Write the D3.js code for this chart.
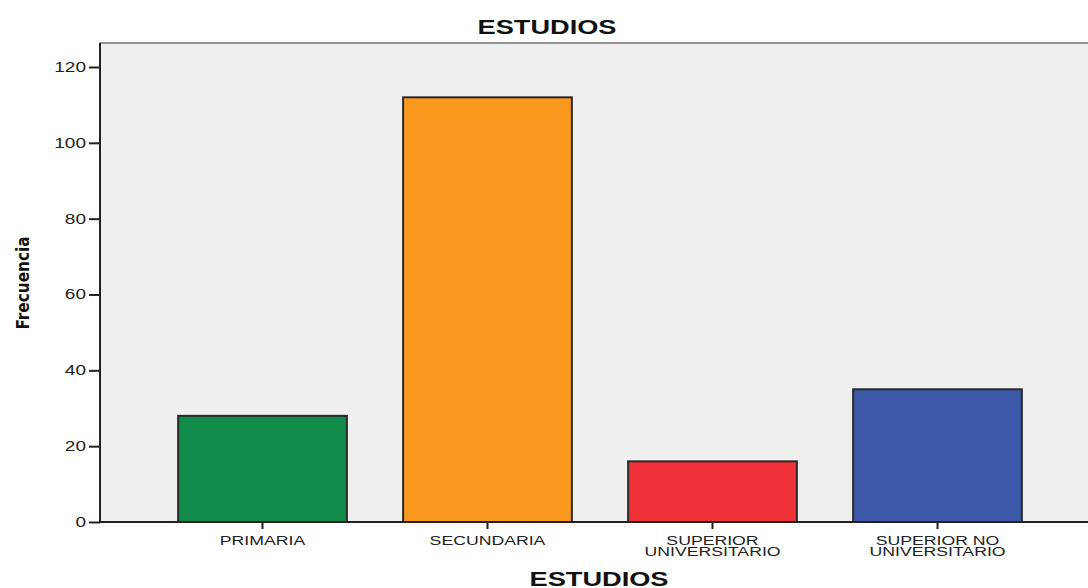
<!DOCTYPE html>
<html><head><meta charset="utf-8">
<script src="https://cdn.jsdelivr.net/npm/d3@7"></script>
<style>body{margin:0;background:#fff}svg{display:block}</style>
</head><body>
<svg id="c" width="1088" height="588"></svg>
<script>
const categories = [["PRIMARIA"], ["SECUNDARIA"], ["SUPERIOR", "UNIVERSITARIO"], ["SUPERIOR NO", "UNIVERSITARIO"]];
const values = [28, 112, 16, 35];
const colors = ["#118c4a", "#f99a1f", "#ef323a", "#3c58a8"];
const yTicks = [0, 20, 40, 60, 80, 100, 120];
const title = "ESTUDIOS";
const xTitle = "ESTUDIOS";
const yTitle = "Frecuencia";

const FONT = "Liberation Sans, Arial, sans-serif";
const SX = 1.36;
const svg = d3.select("#c");
const L = 100, R = 1090, T = 43, B = 522;
const keys = categories.map(c => c.join(" "));
const x = d3.scaleBand().domain(keys).range([150, 1050]).paddingInner(0.25).paddingOuter(0.125);
const y = d3.scaleLinear().domain([0, 120]).range([B, 67]);

svg.append("rect").attr("x", L).attr("y", T).attr("width", R - L).attr("height", B - T)
  .attr("fill", "#efefef").attr("stroke", "#777").attr("stroke-width", 1.5);

svg.selectAll("rect.bar").data(values).enter().append("rect").attr("class", "bar")
  .attr("x", (d, i) => x(keys[i])).attr("width", x.bandwidth())
  .attr("y", d => y(d)).attr("height", d => B - y(d))
  .attr("fill", (d, i) => colors[i]).attr("stroke", "#2a2a2a").attr("stroke-width", 2);

const ya = svg.append("g").attr("transform", `translate(${L},0)`)
  .call(d3.axisLeft(y).tickValues(yTicks).tickSize(11).tickPadding(3));
ya.select(".domain").attr("d", `M0,${T}V${B}`).attr("stroke", "#222").attr("stroke-width", 2);
ya.selectAll(".tick line").attr("stroke", "#222").attr("stroke-width", 2);
ya.selectAll("text").attr("font-family", FONT).attr("font-size", 14).attr("fill", "#222")
  .attr("x", 0).attr("transform", `translate(-14,0) scale(${SX},1)`);

const xa = svg.append("g").attr("transform", `translate(0,${B})`)
  .call(d3.axisBottom(x).tickSize(7).tickFormat(""));
xa.select(".domain").attr("d", `M${L},0H${R}`).attr("stroke", "#222").attr("stroke-width", 2);
xa.selectAll(".tick line").attr("stroke", "#222").attr("stroke-width", 2);
xa.selectAll(".tick").each(function (d, i) {
  const t = d3.select(this).append("text").attr("fill", "#222")
    .attr("font-family", FONT).attr("font-size", 13)
    .attr("text-anchor", "middle").attr("transform", `scale(${SX},1)`);
  categories[i].forEach((s, j) => t.append("tspan").attr("x", 0).attr("y", 23 + j * 11.5).text(s));
});

svg.append("text").attr("transform", `translate(547,34) scale(${SX},1)`).attr("text-anchor", "middle")
  .attr("font-family", FONT).attr("font-weight", "bold")
  .attr("font-size", 20).attr("fill", "#111").text(title);
svg.append("text").attr("transform", `translate(599,586) scale(${SX},1)`).attr("text-anchor", "middle")
  .attr("font-family", FONT).attr("font-weight", "bold")
  .attr("font-size", 20).attr("fill", "#111").text(xTitle);
svg.append("text").attr("transform", "translate(29,283) rotate(-90)").attr("text-anchor", "middle")
  .attr("font-family", "Liberation Sans Narrow, DejaVu Sans Condensed, Arial, sans-serif").attr("font-weight", "bold")
  .attr("font-size", 17).attr("fill", "#111").text(yTitle);
</script>
</body></html>
